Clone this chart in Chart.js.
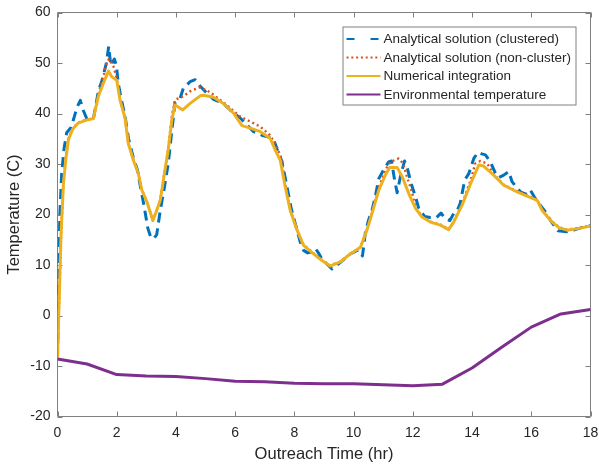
<!DOCTYPE html>
<html>
<head>
<meta charset="utf-8">
<script src="https://cdn.jsdelivr.net/npm/chart.js@4.4.1/dist/chart.umd.min.js"></script>
<style>
  html, body { margin: 0; padding: 0; background: #ffffff; }
  #wrap { width: 599px; height: 468px; }
</style>
</head>
<body>
<div id="wrap"><canvas id="chart" width="599" height="468"></canvas></div>
<script>
// Outreach time (hr) and temperature (C) for each series
const clusteredTime = [0, 0.03, 0.08, 0.14, 0.22, 0.31, 0.45, 0.55, 0.65, 0.77, 0.88, 1.0, 1.22, 1.38, 1.5, 1.65, 1.73, 1.8, 1.92, 1.99, 2.05, 2.15, 2.28, 2.4, 2.55, 2.7, 2.8, 2.92, 3.05, 3.15, 3.25, 3.35, 3.47, 3.6, 3.74, 3.85, 3.97, 4.14, 4.25, 4.48, 4.65, 4.82, 5.05, 5.27, 5.6, 5.83, 6.17, 6.34, 6.62, 6.9, 7.1, 7.3, 7.41, 7.58, 7.75, 7.9, 8.2, 8.31, 8.45, 8.6, 8.72, 8.8, 8.95, 9.1, 9.27, 9.55, 9.89, 10.17, 10.3, 10.4, 10.5, 10.62, 10.73, 10.85, 11.01, 11.18, 11.28, 11.38, 11.47, 11.58, 11.72, 11.8, 11.95, 12.09, 12.2, 12.4, 12.59, 12.8, 12.95, 13.08, 13.25, 13.38, 13.5, 13.6, 13.75, 13.89, 14.06, 14.2, 14.33, 14.45, 14.62, 14.78, 14.9, 15.07, 15.24, 15.35, 15.5, 15.65, 15.85, 15.97, 16.1, 16.31, 16.48, 16.65, 16.8, 16.9, 17.2, 17.43, 17.7, 18];
const clusteredTemp = [-8.6, 5, 20.2, 28.1, 33, 36.2, 37.2, 39, 41.1, 42.6, 40.5, 38.8, 39.2, 44.4, 46.5, 50, 53.3, 49.5, 50.8, 49.5, 46, 43, 39.5, 35, 31.5, 28.8, 25.5, 21.8, 17.3, 15.5, 15.2, 16, 20.8, 25, 30.1, 36, 42.2, 43, 45, 46.3, 46.7, 45.4, 44, 42.8, 42, 40.7, 39.1, 38.1, 36.4, 35.7, 35.4, 34.9, 33, 30.5, 25.5, 21, 14.5, 12.9, 12.4, 12.6, 13.2, 12.5, 11, 10.2, 9.2, 10.5, 12.2, 13, 11.8, 16.5, 18.8, 20.8, 23.5, 27.1, 28.8, 30.4, 30.6, 27, 24.3, 27.5, 30.6, 29.5, 26, 23.5, 21.2, 19.6, 19.4, 19.4, 20.3, 19.3, 18.8, 20.2, 20.8, 22.2, 26.8, 28.1, 31.1, 32.3, 32, 31.8, 30.4, 28.3, 27.3, 27.8, 28.5, 26.5, 25.4, 24.4, 24, 24.8, 23.5, 21.8, 20.5, 18.8, 17.6, 16.8, 16.6, 16.9, 17.4, 17.8];

const nonClusterTime = [0, 0.12, 0.2, 0.29, 0.37, 0.51, 0.7, 0.93, 1.21, 1.38, 1.55, 1.66, 1.74, 1.89, 2.0, 2.11, 2.28, 2.39, 2.56, 2.73, 2.85, 3.02, 3.13, 3.22, 3.35, 3.47, 3.63, 3.74, 3.86, 3.97, 4.25, 4.48, 4.82, 5.16, 5.49, 5.83, 6.17, 6.51, 6.85, 7.18, 7.41, 7.58, 7.69, 7.86, 8.09, 8.31, 8.65, 8.93, 9.21, 9.55, 9.89, 10.23, 10.45, 10.62, 10.85, 11.07, 11.24, 11.52, 11.68, 11.8, 11.97, 12.09, 12.31, 12.59, 12.93, 13.21, 13.38, 13.66, 13.95, 14.11, 14.28, 14.51, 14.73, 15.07, 15.41, 15.8, 16.2, 16.37, 16.65, 16.93, 17.21, 17.66, 18];
const nonClusterTemp = [-8.6, 16, 26.3, 31.6, 35, 37, 38.2, 38.7, 39.1, 43.8, 47.3, 50, 50.8, 49.3, 47, 42.9, 39.2, 34.2, 30.9, 28.2, 24.9, 22.5, 20.5, 18.8, 20.8, 22.9, 29, 33, 39.5, 42.7, 43.4, 44.4, 45.2, 44.2, 42.7, 41.1, 39.4, 38.4, 37.4, 35.7, 33.4, 30.8, 26, 21, 17, 14, 12.3, 11, 9.9, 10.7, 12.2, 13.5, 17, 20.5, 25.3, 28.8, 30.4, 31.1, 30, 27.5, 24.5, 21.4, 19.6, 18.6, 18, 17.1, 18.6, 22, 26.8, 30.1, 30.6, 30.1, 28, 25.9, 24.9, 23.9, 22.9, 20.9, 18.9, 17.5, 17, 17.4, 17.8];

const numericalTime = [0, 0.12, 0.2, 0.29, 0.37, 0.51, 0.7, 0.93, 1.21, 1.38, 1.55, 1.72, 1.83, 2.0, 2.11, 2.28, 2.39, 2.56, 2.73, 2.85, 3.02, 3.13, 3.22, 3.35, 3.47, 3.63, 3.74, 3.86, 3.97, 4.23, 4.48, 4.82, 4.93, 5.27, 5.6, 5.94, 6.23, 6.51, 6.85, 7.18, 7.35, 7.52, 7.69, 7.86, 8.09, 8.31, 8.65, 8.93, 9.21, 9.55, 9.89, 10.23, 10.45, 10.62, 10.85, 11.07, 11.22, 11.47, 11.64, 11.86, 12.09, 12.31, 12.59, 12.93, 13.21, 13.38, 13.66, 13.95, 14.23, 14.39, 14.73, 15.07, 15.41, 15.8, 16.2, 16.37, 16.65, 16.93, 17.21, 17.66, 18];
const numericalTemp = [-8.6, 16, 26.1, 31.4, 34.8, 36.9, 38.1, 38.6, 39, 43.4, 46, 48.4, 47.3, 46.6, 42.7, 39.1, 34.1, 30.8, 28.1, 24.8, 22.5, 20.5, 18.8, 20.8, 22.8, 28.8, 32.8, 38.7, 41.7, 40.7, 42, 43.5, 43.6, 43.2, 42, 40.1, 37.6, 37.1, 36.4, 35.1, 32.8, 30.8, 25.5, 20.8, 16.9, 13.9, 12.2, 10.9, 9.8, 10.6, 12.2, 13.5, 16.9, 20.2, 24.8, 27.8, 29.3, 29.3, 27.5, 24.2, 21.2, 19.5, 18.5, 17.9, 17, 18.5, 21.8, 26.1, 29.8, 29.6, 27.8, 25.8, 24.8, 23.8, 22.8, 20.8, 18.8, 17.4, 16.9, 17.3, 17.7];

const environmentTime = [0, 1, 2, 3, 4, 5, 6, 7, 8, 9, 10, 11, 12, 13, 14, 15, 16, 17, 18];
const environmentTemp = [-8.6, -9.6, -11.7, -12.0, -12.1, -12.5, -13.0, -13.1, -13.4, -13.5, -13.5, -13.7, -13.9, -13.6, -10.4, -6.3, -2.3, 0.3, 1.2];

const seriesLabels = [
  'Analytical solution (clustered)',
  'Analytical solution (non-cluster)',
  'Numerical integration',
  'Environmental temperature'
];

const toPoints = (xs, ys) => xs.map((x, i) => ({ x: x, y: ys[i] }));

const TEXT = '#262626';
const AXIS = '#808080';
const FONT = '"Liberation Sans", Arial, Helvetica, sans-serif';

// Box around the axes with inward tick marks on all four sides
const axesFrame = {
  id: 'axesFrame',
  beforeDatasetsDraw(chart) {
    const { ctx, chartArea: a, scales: { x, y } } = chart;
    ctx.save();
    ctx.strokeStyle = AXIS;
    ctx.lineWidth = 1;
    ctx.beginPath();
    ctx.rect(a.left, a.top, a.right - a.left, a.bottom - a.top);
    x.ticks.forEach(t => {
      const px = Math.round(x.getPixelForValue(t.value)) + 0.5;
      ctx.moveTo(px, a.bottom); ctx.lineTo(px, a.bottom - 5);
      ctx.moveTo(px, a.top); ctx.lineTo(px, a.top + 5);
    });
    y.ticks.forEach(t => {
      const py = Math.round(y.getPixelForValue(t.value)) + 0.5;
      ctx.moveTo(a.left, py); ctx.lineTo(a.left + 5, py);
      ctx.moveTo(a.right, py); ctx.lineTo(a.right - 5, py);
    });
    ctx.stroke();
    ctx.restore();
  }
};

// Boxed legend in the upper right corner of the plot area
const boxedLegend = {
  id: 'boxedLegend',
  afterDraw(chart) {
    const { ctx, chartArea: a } = chart;
    const right = a.right - 14.5, top = a.top + 14.5;
    const left = right - 233, bottom = top + 78;
    ctx.save();
    ctx.fillStyle = '#ffffff';
    ctx.fillRect(left, top, right - left, bottom - top);
    ctx.strokeStyle = AXIS;
    ctx.lineWidth = 1;
    ctx.strokeRect(left, top, right - left, bottom - top);
    ctx.font = '13.5px ' + FONT;
    ctx.textBaseline = 'middle';
    chart.data.datasets.forEach((ds, i) => {
      const cy = top + 12 + i * 18.5;
      const x0 = left + 3.5, x1 = left + 37.5;
      ctx.beginPath();
      ctx.strokeStyle = ds.borderColor;
      ctx.lineWidth = 2.2;
      ctx.lineCap = 'butt';
      ctx.setLineDash(i === 0 ? [8, 16] : (i === 1 ? [2, 2.8] : []));
      ctx.moveTo(x0, cy); ctx.lineTo(x1, cy);
      ctx.stroke();
      ctx.setLineDash([]);
      ctx.fillStyle = TEXT;
      ctx.fillText(ds.label, left + 40.5, cy + 0.5);
    });
    ctx.restore();
  }
};

new Chart(document.getElementById('chart'), {
  type: 'line',
  data: {
    datasets: [
      {
        label: seriesLabels[0],
        data: toPoints(clusteredTime, clusteredTemp),
        borderColor: '#0072BD',
        borderWidth: 3,
        borderDash: [10, 6],
        order: 4
      },
      {
        label: seriesLabels[1],
        data: toPoints(nonClusterTime, nonClusterTemp),
        borderColor: '#D95319',
        borderWidth: 2.4,
        borderDash: [2, 3],
        order: 3
      },
      {
        label: seriesLabels[2],
        data: toPoints(numericalTime, numericalTemp),
        borderColor: '#EDB120',
        borderWidth: 3,
        order: 2
      },
      {
        label: seriesLabels[3],
        data: toPoints(environmentTime, environmentTemp),
        borderColor: '#7E2F8E',
        borderWidth: 3,
        order: 1
      }
    ]
  },
  options: {
    responsive: false,
    animation: false,
    devicePixelRatio: 1,
    elements: {
      point: { radius: 0, hoverRadius: 0 },
      line: { tension: 0, fill: false, borderJoinStyle: 'round' }
    },
    layout: { padding: { left: 0, right: 8.5, top: 12.5, bottom: 0 } },
    plugins: {
      legend: { display: false },
      tooltip: { enabled: false }
    },
    scales: {
      x: {
        type: 'linear',
        min: 0,
        max: 18,
        grid: { display: false, drawTicks: false },
        border: { display: false },
        ticks: {
          stepSize: 2,
          color: TEXT,
          padding: 8,
          maxRotation: 0,
          font: { family: FONT, size: 14 }
        },
        title: {
          display: true,
          text: 'Outreach Time (hr)',
          color: TEXT,
          font: { family: FONT, size: 16.5 },
          padding: { top: 0, bottom: 4 }
        },
        afterFit(scale) {
          scale.height = 51.5;
          scale.paddingLeft = 0;
          scale.paddingRight = 0;
        }
      },
      y: {
        type: 'linear',
        min: -20,
        max: 60,
        grid: { display: false, drawTicks: false },
        border: { display: false },
        ticks: {
          stepSize: 10,
          color: TEXT,
          padding: 7,
          font: { family: FONT, size: 14 }
        },
        title: {
          display: true,
          text: 'Temperature (C)',
          color: TEXT,
          font: { family: FONT, size: 16.5 },
          padding: { top: 5, bottom: 0 }
        },
        afterFit(scale) {
          scale.width = 57.5;
          scale.paddingTop = 0;
          scale.paddingBottom = 0;
        }
      }
    }
  },
  plugins: [axesFrame, boxedLegend]
});
</script>
</body>
</html>
